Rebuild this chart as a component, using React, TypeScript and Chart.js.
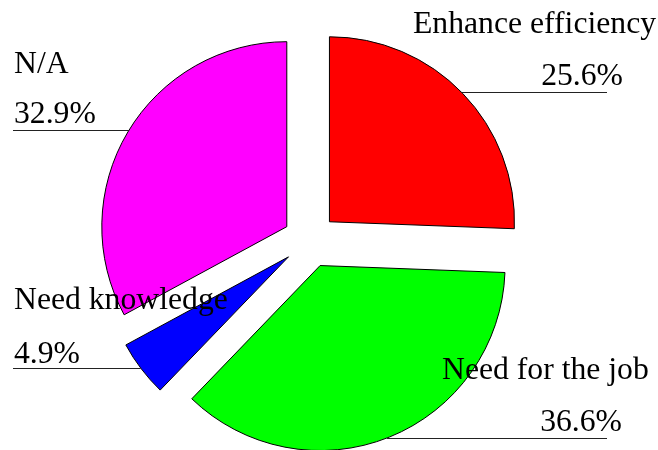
import React, { useEffect, useRef } from 'react';
import { Chart, registerables } from 'chart.js';

Chart.register(...registerables);

const categories = ['Enhance efficiency', 'Need for the job', 'Need knowledge', 'N/A'];
const values = [25.6, 36.6, 4.9, 32.9];
const colors = ['#ff0000', '#00ff00', '#0000ff', '#ff00ff'];

const EXPLODE = 27;
const RADIUS = 185;
const FONT = '31.7px "Liberation Serif", "Times New Roman", serif';

type Layout = {
  nameX: number; nameY: number; pctX: number; pctY: number;
  pctAlign: CanvasTextAlign; lineY: number; side: 'left' | 'right'; lineEnd: number;
};

const labelLayout: Layout[] = [
  { nameX: 413, nameY: 33, pctX: 623, pctY: 85, pctAlign: 'right', lineY: 92, side: 'right', lineEnd: 607 },
  { nameX: 442, nameY: 379, pctX: 622, pctY: 431, pctAlign: 'right', lineY: 438, side: 'right', lineEnd: 607 },
  { nameX: 14, nameY: 309, pctX: 14, pctY: 363, pctAlign: 'left', lineY: 368, side: 'left', lineEnd: 13 },
  { nameX: 14, nameY: 73, pctX: 14, pctY: 123, pctAlign: 'left', lineY: 130, side: 'left', lineEnd: 13 },
];

const explodePlugin = {
  id: 'explodeSlices',
  afterDatasetsUpdate(chart: any) {
    chart.getDatasetMeta(0).data.forEach((arc: any) => {
      const h = (arc.startAngle + arc.endAngle) / 2;
      arc.x += Math.cos(h) * EXPLODE;
      arc.y += Math.sin(h) * EXPLODE;
    });
  },
};

const labelPlugin = {
  id: 'sliceLabels',
  afterDraw(chart: any) {
    const ctx: CanvasRenderingContext2D = chart.ctx;
    const arcs = chart.getDatasetMeta(0).data;
    ctx.save();
    ctx.font = FONT;
    ctx.fillStyle = '#000';
    ctx.textBaseline = 'alphabetic';
    labelLayout.forEach((L, i) => {
      const arc = arcs[i];
      if (!arc) return;
      const r = arc.outerRadius;
      const dy = L.lineY - arc.y;
      const dx = Math.sqrt(Math.max(r * r - dy * dy, 0));
      const edgeX = L.side === 'right' ? arc.x + dx : arc.x - dx;
      ctx.beginPath();
      ctx.strokeStyle = '#222';
      ctx.lineWidth = 1;
      ctx.moveTo(Math.min(edgeX, L.lineEnd), L.lineY + 0.5);
      ctx.lineTo(Math.max(edgeX, L.lineEnd), L.lineY + 0.5);
      ctx.stroke();
      ctx.textAlign = 'left';
      ctx.fillText(categories[i], L.nameX, L.nameY);
      ctx.textAlign = L.pctAlign;
      ctx.fillText(values[i].toFixed(1) + '%', L.pctX, L.pctY);
    });
    ctx.restore();
  },
};

export default function App() {
  const canvasRef = useRef<HTMLCanvasElement | null>(null);

  useEffect(() => {
    if (!canvasRef.current) return;
    const chart = new Chart(canvasRef.current, {
      type: 'pie',
      data: {
        labels: categories,
        datasets: [
          {
            data: values,
            backgroundColor: colors,
            borderColor: '#000',
            borderWidth: 1,
          },
        ],
      },
      options: {
        responsive: false,
        animation: false,
        radius: RADIUS,
        layout: { padding: { left: 0, right: 38, top: 31, bottom: 0 } },
        plugins: {
          legend: { display: false },
          tooltip: { enabled: false },
        },
      } as any,
      plugins: [explodePlugin, labelPlugin],
    });
    return () => chart.destroy();
  }, []);

  return (
    <div style={{ position: 'absolute', left: 0, top: 0, width: 658, height: 450, background: '#fff' }}>
      <canvas ref={canvasRef} width={658} height={450} style={{ display: 'block' }} />
    </div>
  );
}
